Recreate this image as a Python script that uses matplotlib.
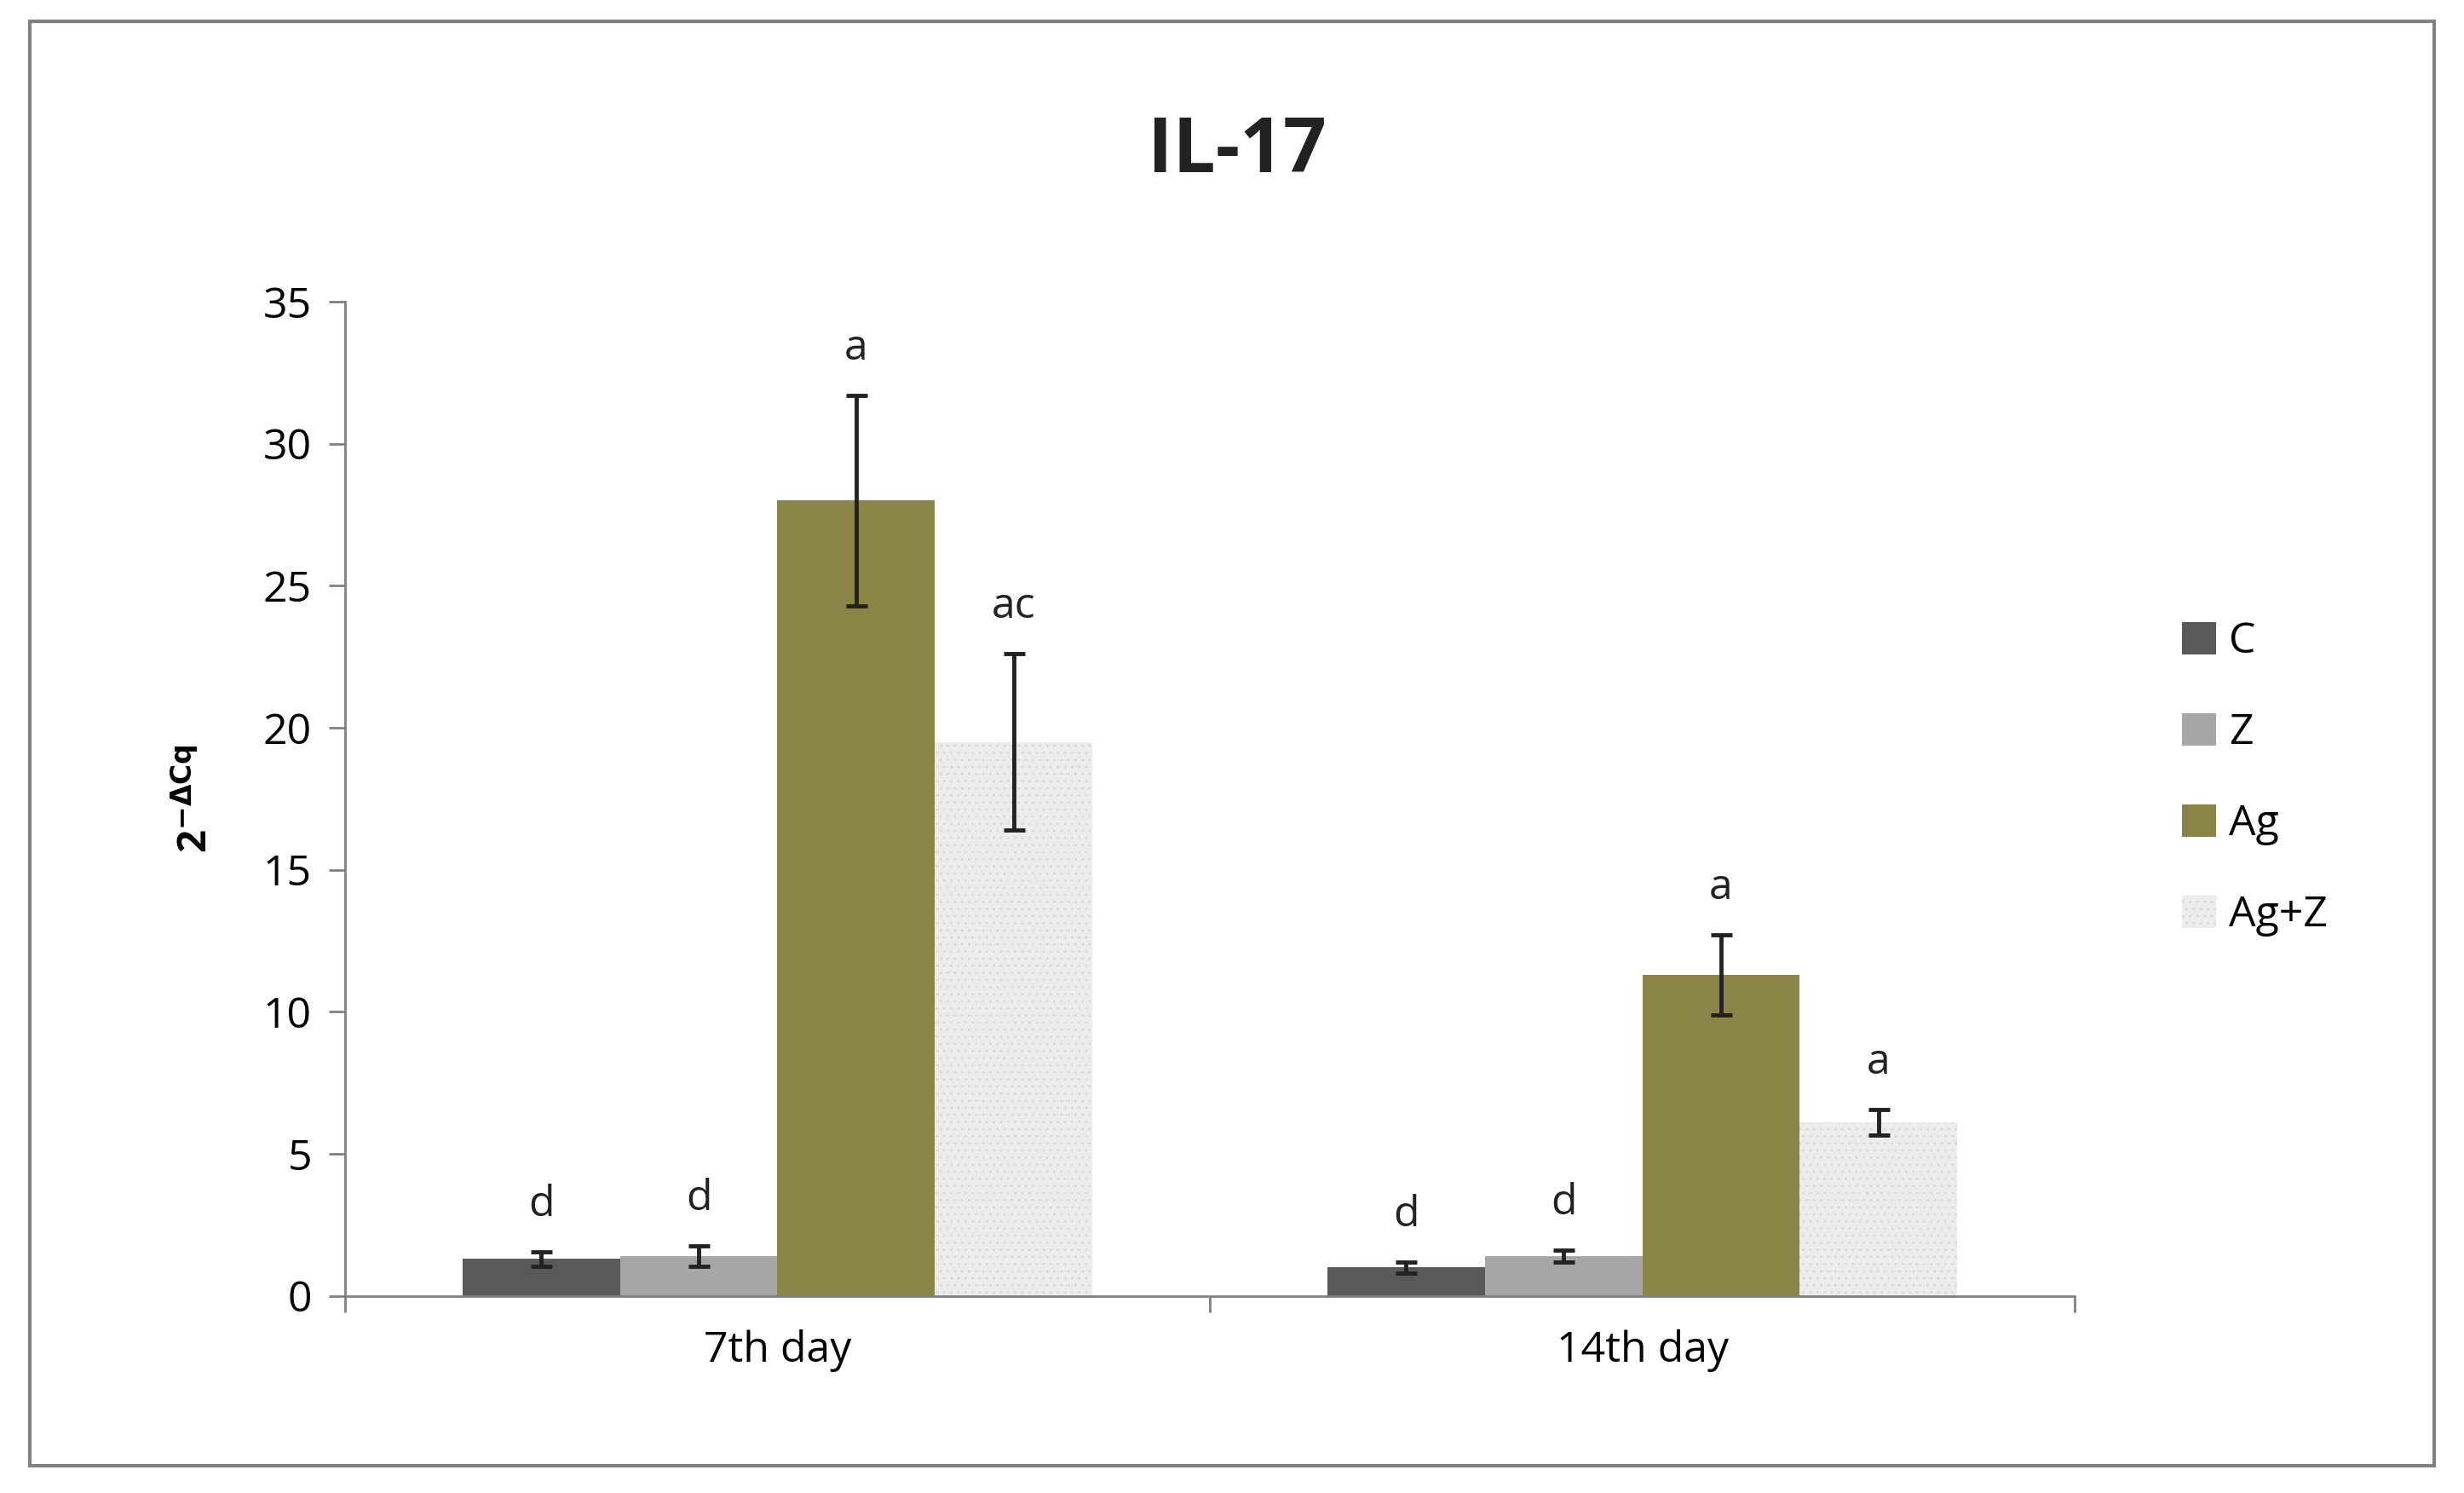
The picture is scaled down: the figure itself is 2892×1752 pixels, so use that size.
import matplotlib
matplotlib.use("Agg")
import matplotlib.pyplot as plt
import numpy as np
from matplotlib.patches import Rectangle

categories = ["7th day", "14th day"]
series = ["C", "Z", "Ag", "Ag+Z"]
values = {"C": [1.3, 1.0], "Z": [1.4, 1.4], "Ag": [28.0, 11.3], "Ag+Z": [19.5, 6.1]}
errors = {"C": [0.25, 0.2], "Z": [0.35, 0.2], "Ag": [3.7, 1.4], "Ag+Z": [3.1, 0.45]}
letters = {"C": ["d", "d"], "Z": ["d", "d"], "Ag": ["a", "a"], "Ag+Z": ["ac", "a"]}
colors = {"C": "#595959", "Z": "#a6a6a6", "Ag": "#8b8447", "Ag+Z": "#ececec"}

plt.rcParams['font.family'] = ['Open Sans', 'DejaVu Sans']
fig = plt.figure(figsize=(28.92, 17.52), dpi=100)
fig.patches.append(Rectangle((0.012, 0.018), 0.976, 0.968, transform=fig.transFigure,
                             fill=False, edgecolor="#808080", linewidth=3))
ax = fig.add_axes([0.140, 0.132, 0.702, 0.666])
x = np.arange(len(categories))
w = 0.182
for i, s in enumerate(series):
    pos = x + (i - 1.5) * w
    kw = {}
    if s == "Ag+Z":
        kw = dict(hatch="..", edgecolor="#d8d8d8", linewidth=0)
    ax.bar(pos, values[s], w, color=colors[s], label=s, **kw)
    ax.errorbar(pos, values[s], yerr=errors[s], fmt="none", ecolor="#222222",
                elinewidth=3.5, capsize=9, capthick=3.5)
    for p, v, e, t in zip(pos, values[s], errors[s], letters[s]):
        ax.text(p, v + e + 0.9, t, ha="center", va="bottom", fontsize=36, color="#222222")

ax.set_xlim(-0.5, 1.5)
ax.set_ylim(0, 35)
ax.set_yticks(range(0, 36, 5))
ax.set_xticks(x)
ax.set_xticklabels(categories)
ax.set_xticks([-0.5, 0.5, 1.5], minor=True)
ax.tick_params(axis="x", which="major", length=0, labelsize=36, pad=28)
ax.tick_params(axis="x", which="minor", length=14, width=2, color="#808080")
ax.tick_params(axis="y", labelsize=36, length=14, width=2, color="#808080", pad=14)
for sp in ["top", "right"]:
    ax.spines[sp].set_visible(False)
for sp in ["left", "bottom"]:
    ax.spines[sp].set_color("#808080")
    ax.spines[sp].set_linewidth(2)
ax.set_ylabel(r"2$^{\mathbf{-\Delta Cq}}$", fontsize=34, fontweight="bold", labelpad=40)
fig.text(0.502, 0.898, "IL-17", ha="center", va="center", fontsize=64, fontweight="bold", color="#222222")
leg = ax.legend(loc="center left", bbox_to_anchor=(1.04, 0.52), frameon=False, fontsize=36,
                handlelength=0.8, handleheight=0.8, labelspacing=1.15, handletextpad=0.3)
fig.savefig("out.png", dpi=100)
